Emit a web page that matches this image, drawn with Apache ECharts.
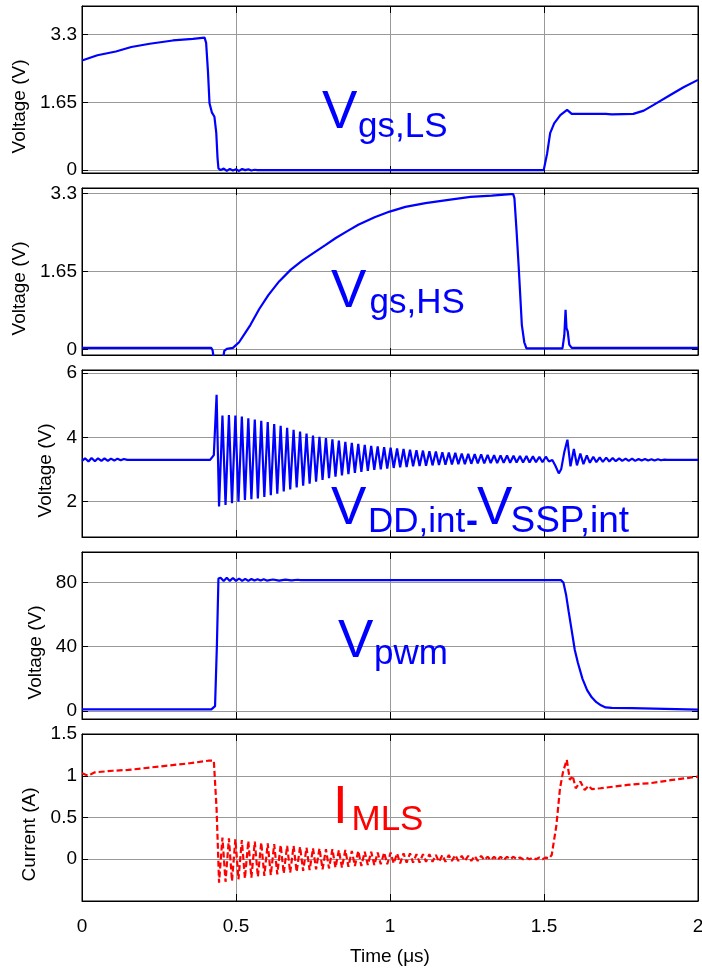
<!DOCTYPE html>
<html><head><meta charset="utf-8">
<script src="https://cdn.jsdelivr.net/npm/echarts@6/dist/echarts.min.js"></script>
<style>html,body{margin:0;padding:0;background:#fff}#c{width:702px;height:971px}</style>
</head><body><div id="c"></div>
<script>
// ---------------- data ----------------
const xTicks = [0, 0.5, 1, 1.5, 2];
const vgsTicks = [0, 1.65, 3.3];
const vddTicks = [2, 4, 6];
const vpwmTicks = [0, 40, 80];
const imlsTicks = [0, 0.5, 1, 1.5];

// Vgs,LS
const vgsLsT = [0, 0.05, 0.11, 0.16, 0.22, 0.295, 0.36, 0.398, 0.403, 0.409, 0.414, 0.422, 0.43, 0.436, 0.44, 0.443, 0.45, 0.46, 0.47, 0.48, 0.49, 0.50, 0.51, 0.52, 0.53, 0.54, 0.55, 0.56, 0.57, 1.499, 1.51, 1.52, 1.533, 1.553, 1.575, 1.59, 1.70, 1.72, 1.79, 1.824, 1.856, 1.91, 1.953, 2.0];
const vgsLsV = [2.67, 2.80, 2.89, 3.00, 3.08, 3.16, 3.20, 3.23, 3.10, 2.40, 1.63, 1.40, 1.30, 0.90, 0.30, 0.04, 0.00, 0.04, -0.02, 0.03, -0.01, 0.02, -0.02, 0.03, 0.00, 0.02, -0.01, 0.01, 0.00, 0.00, 0.40, 0.90, 1.14, 1.34, 1.47, 1.37, 1.37, 1.36, 1.37, 1.45, 1.59, 1.83, 2.02, 2.20];

// Vgs,HS
const vgsHsT = [0, 0.420, 0.424, 0.428, 0.458, 0.462, 0.470, 0.49, 0.496, 0.51, 0.53, 0.547, 0.575, 0.605, 0.64, 0.678, 0.715, 0.751, 0.79, 0.824, 0.86, 0.897, 0.95, 0.999, 1.05, 1.115, 1.19, 1.261, 1.33, 1.392, 1.40, 1.404, 1.411, 1.418, 1.428, 1.436, 1.443, 1.56, 1.566, 1.570, 1.573, 1.577, 1.582, 1.59, 2.0];
const vgsHsV = [0.03, 0.03, -0.02, -0.2, -0.2, -0.03, 0.01, 0.03, 0.03, 0.15, 0.35, 0.52, 0.85, 1.15, 1.44, 1.69, 1.88, 2.04, 2.21, 2.36, 2.50, 2.64, 2.80, 2.92, 3.02, 3.10, 3.17, 3.23, 3.26, 3.29, 3.29, 3.20, 2.50, 1.73, 0.52, 0.15, 0.02, 0.02, 0.30, 0.84, 0.45, 0.38, 0.10, 0.03, 0.03];

// ringing instants (shared by VDD-VSSP and IMLS)
const ringT = [0.445, 0.456, 0.466, 0.477, 0.487, 0.498, 0.508, 0.519, 0.529, 0.540,
  0.550, 0.561, 0.571, 0.582, 0.592, 0.603, 0.613, 0.624, 0.634, 0.645,
  0.655, 0.666, 0.676, 0.687, 0.697, 0.708, 0.718, 0.729, 0.739, 0.750,
  0.760, 0.771, 0.781, 0.792, 0.802, 0.813, 0.823, 0.834, 0.844, 0.855,
  0.865, 0.876, 0.886, 0.897, 0.907, 0.918, 0.928, 0.939, 0.949, 0.960,
  0.970, 0.981, 0.991, 1.002, 1.012, 1.023, 1.033, 1.044, 1.054, 1.065,
  1.075, 1.086, 1.096, 1.107, 1.117, 1.128, 1.138, 1.149, 1.159, 1.170,
  1.180, 1.191, 1.201, 1.212, 1.222, 1.233, 1.243, 1.254, 1.264, 1.275,
  1.285, 1.296, 1.306, 1.317, 1.327, 1.338, 1.348, 1.359, 1.369, 1.380,
  1.390, 1.401, 1.411, 1.422, 1.432, 1.443, 1.453, 1.464, 1.474, 1.485,
  1.495, 1.506];

// VDD,int - VSSP,int
const vddPreT = [0, 0.010, 0.021, 0.031, 0.042, 0.052, 0.063, 0.073, 0.084, 0.094, 0.105, 0.115, 0.126, 0.136, 0.147, 0.16, 0.416, 0.428, 0.437];
const vddPreV = [3.27, 3.35, 3.25, 3.36, 3.26, 3.35, 3.27, 3.35, 3.27, 3.34, 3.28, 3.34, 3.29, 3.33, 3.30, 3.30, 3.30, 3.45, 5.33];
const vddRingV = [1.85, 4.68, 1.90, 4.70, 1.95, 4.68, 2.00, 4.65, 2.05, 4.60,
  2.08, 4.56, 2.10, 4.52, 2.15, 4.48, 2.20, 4.42, 2.25, 4.36,
  2.32, 4.30, 2.38, 4.24, 2.44, 4.18, 2.50, 4.12, 2.56, 4.06,
  2.62, 4.02, 2.68, 3.98, 2.73, 3.94, 2.78, 3.90, 2.82, 3.86,
  2.86, 3.83, 2.90, 3.80, 2.93, 3.77, 2.96, 3.74, 2.99, 3.72,
  3.01, 3.70, 3.03, 3.68, 3.05, 3.66, 3.07, 3.64, 3.08, 3.62,
  3.10, 3.60, 3.11, 3.59, 3.12, 3.57, 3.13, 3.56, 3.14, 3.54,
  3.15, 3.53, 3.16, 3.52, 3.17, 3.50, 3.17, 3.49, 3.18, 3.48,
  3.19, 3.47, 3.19, 3.46, 3.20, 3.45, 3.20, 3.44, 3.21, 3.44,
  3.21, 3.43, 3.22, 3.42, 3.22, 3.42, 3.22, 3.41, 3.23, 3.40,
  3.23, 3.40];
const vddPostT = [1.516, 1.527, 1.537, 1.548, 1.556, 1.566, 1.576, 1.586, 1.597, 1.607, 1.618, 1.628, 1.639, 1.649, 1.660, 1.670, 1.681, 1.691, 1.702, 1.712, 1.723, 1.733, 1.744, 1.754, 1.765, 1.775, 1.786, 1.796, 1.807, 1.817, 1.828, 1.838, 1.849, 1.859, 1.870, 1.880, 1.891, 1.90, 2.0];
const vddPostV = [3.25, 3.30, 3.12, 2.88, 3.02, 3.55, 3.93, 3.10, 3.64, 3.13, 3.50, 3.17, 3.44, 3.21, 3.40, 3.23, 3.38, 3.24, 3.37, 3.25, 3.36, 3.26, 3.35, 3.27, 3.34, 3.27, 3.34, 3.27, 3.33, 3.28, 3.33, 3.28, 3.32, 3.28, 3.32, 3.29, 3.31, 3.30, 3.30];

// Vpwm
const vpwmT = [0, 0.42, 0.432, 0.438, 0.443, 0.450, 0.46, 0.47, 0.48, 0.49, 0.50, 0.51, 0.52, 0.53, 0.54, 0.55, 0.56, 0.57, 0.58, 0.59, 0.60, 0.62, 0.64, 0.66, 0.68, 0.70, 0.71, 1.555, 1.563, 1.572, 1.58, 1.59, 1.60, 1.61, 1.625, 1.64, 1.655, 1.67, 1.685, 1.70, 1.72, 1.785, 1.79, 2.0];
const vpwmV = [1.0, 1.0, 3, 41, 82.5, 83, 81, 83, 81, 82.8, 81, 82.5, 81, 82.3, 81, 82.2, 81.2, 82, 81.2, 82, 81.2, 81.9, 81.2, 81.8, 81.3, 81.7, 81.5, 81.5, 80, 72, 62, 50, 38, 30, 20, 13, 8.5, 5.5, 3.5, 2.2, 1.9, 1.8, 0.8, 0.8];

// IMLS
const imlsPreT = [0, 0.02, 0.04, 0.10, 0.15, 0.20, 0.30, 0.35, 0.41, 0.428, 0.437];
const imlsPreV = [1.03, 1.00, 1.04, 1.06, 1.07, 1.09, 1.13, 1.15, 1.18, 1.18, 0.60];
const imlsRingV = [-0.28, 0.26, -0.27, 0.25, -0.26, 0.24, -0.24, 0.23, -0.23, 0.22,
  -0.22, 0.21, -0.21, 0.20, -0.20, 0.19, -0.19, 0.18, -0.18, 0.17,
  -0.17, 0.16, -0.16, 0.16, -0.15, 0.15, -0.14, 0.14, -0.13, 0.13,
  -0.12, 0.13, -0.12, 0.12, -0.11, 0.12, -0.10, 0.11, -0.10, 0.11,
  -0.09, 0.10, -0.08, 0.10, -0.08, 0.09, -0.07, 0.09, -0.07, 0.08,
  -0.06, 0.08, -0.06, 0.08, -0.05, 0.07, -0.05, 0.07, -0.04, 0.07,
  -0.04, 0.06, -0.04, 0.06, -0.03, 0.06, -0.03, 0.05, -0.03, 0.05,
  -0.03, 0.05, -0.02, 0.05, -0.02, 0.04, -0.02, 0.04, -0.02, 0.04,
  -0.02, 0.04, -0.01, 0.03, -0.01, 0.03, -0.01, 0.03, -0.01, 0.03,
  0.00, 0.03, 0.00, 0.02, 0.00, 0.02, 0.00, 0.02, 0.00, 0.02,
  0.00, 0.02];
const imlsPostT = [1.516, 1.525, 1.54, 1.552, 1.562, 1.574, 1.584, 1.593, 1.603, 1.618, 1.632, 1.645, 1.655, 1.683, 1.727, 1.771, 1.80, 1.843, 1.88, 1.916, 1.96, 2.0];
const imlsPostV = [0.01, 0.05, 0.40, 0.85, 1.05, 1.19, 0.95, 1.00, 0.85, 0.93, 0.83, 0.88, 0.84, 0.85, 0.87, 0.89, 0.90, 0.91, 0.93, 0.95, 0.97, 0.99];

// ---------------- build ----------------
const zip = (t, v) => t.map((x, i) => [x, v[i]]);
const BLUE = '#0000ff', RED = '#ff0000';
const FONT = '"Liberation Sans", Arial, Helvetica, sans-serif';

const panels = [
  { top: 6,   h: 167, min: -0.07, max: 4.0,  ticks: vgsTicks,  name: 'Voltage (V)', gap: 52,
    data: zip(vgsLsT, vgsLsV), color: BLUE, dash: 'solid' },
  { top: 188, h: 167, min: -0.12, max: 3.42, ticks: vgsTicks,  name: 'Voltage (V)', gap: 51,
    data: zip(vgsHsT, vgsHsV), color: BLUE, dash: 'solid' },
  { top: 370, h: 167, min: 0.9,   max: 6.1,  ticks: vddTicks,  name: 'Voltage (V)', gap: 24,
    data: zip(vddPreT, vddPreV).concat(zip(ringT, vddRingV), zip(vddPostT, vddPostV)), color: BLUE, dash: 'solid' },
  { top: 552, h: 167, min: -5,    max: 99,   ticks: vpwmTicks, name: 'Voltage (V)', gap: 35,
    data: zip(vpwmT, vpwmV), color: BLUE, dash: 'solid' },
  { top: 734, h: 167, min: -0.5,  max: 1.5,  ticks: imlsTicks, name: 'Current (A)', gap: 40,
    data: zip(imlsPreT, imlsPreV).concat(zip(ringT, imlsRingV), zip(imlsPostT, imlsPostV)), color: RED, dash: [6, 3] }
];

const grid = [], xAxis = [], yAxis = [], series = [];
const GRIDC = '#999999';
const FS = 19;
panels.forEach((p, i) => {
  grid.push({ left: 82, width: 616, top: p.top, height: p.h, show: true, borderColor: '#000', borderWidth: 1,
    containLabel: false, outerBoundsMode: 'none' });
  const last = i === panels.length - 1;
  xAxis.push({
    gridIndex: i, type: 'value', min: 0, max: 2, interval: 0.5, position: 'bottom',
    axisLine: { show: true, onZero: false, lineStyle: { color: '#000', width: 1 } },
    axisTick: { show: true, inside: true, length: 7, customValues: xTicks, lineStyle: { color: '#000' } },
    axisLabel: { show: last, customValues: xTicks, margin: 16, color: '#000', fontSize: FS, fontFamily: FONT,
      formatter: v => String(v) },
    splitLine: { show: true, lineStyle: { color: GRIDC, width: 1 } },
    name: last ? 'Time (\u03bcs)' : '', nameLocation: 'middle', nameGap: 46,
    nameTextStyle: { color: '#000', fontSize: FS, fontFamily: FONT }
  });
  xAxis.push({
    gridIndex: i, type: 'value', min: 0, max: 2, interval: 0.5, position: 'top',
    axisLine: { show: true, onZero: false, lineStyle: { color: '#000', width: 1 } },
    axisTick: { show: true, inside: true, length: 7, customValues: xTicks, lineStyle: { color: '#000' } },
    axisLabel: { show: false }, splitLine: { show: false }
  });
  yAxis.push({
    gridIndex: i, type: 'value', min: p.min, max: p.max, position: 'left',
    axisLine: { show: true, onZero: false, lineStyle: { color: '#000', width: 1 } },
    axisTick: { show: true, inside: true, length: 6, customValues: p.ticks, lineStyle: { color: '#000' } },
    axisLabel: { show: true, customValues: p.ticks, margin: 5, color: '#000', fontSize: FS, fontFamily: FONT,
      formatter: v => String(v) },
    splitLine: { show: true, lineStyle: { color: GRIDC, width: 1 } },
    name: p.name, nameLocation: 'middle', nameRotate: 90, nameGap: p.gap,
    nameTextStyle: { color: '#000', fontSize: FS, fontFamily: FONT, padding: [0, 34, 0, 0] }
  });
  yAxis.push({
    gridIndex: i, type: 'value', min: p.min, max: p.max, position: 'right',
    axisLine: { show: true, onZero: false, lineStyle: { color: '#000', width: 1 } },
    axisTick: { show: true, inside: true, length: 6, customValues: p.ticks, lineStyle: { color: '#000' } },
    axisLabel: { show: false }, splitLine: { show: false }
  });
  series.push({
    type: 'line', xAxisIndex: 2 * i, yAxisIndex: 2 * i, data: p.data, showSymbol: false,
    symbol: 'none', clip: true, animation: false,
    lineStyle: { color: p.color, width: 2.2, type: p.dash }, z: 5
  });
});

// annotation labels (left x, text baseline y, font size)
const ann = [
  { t: 'V', x: 322, b: 131.5, s: 53, c: BLUE }, { t: 'gs,LS', x: 358, b: 139, s: 35, c: BLUE },
  { t: 'V', x: 331, b: 310, s: 53, c: BLUE }, { t: 'gs,HS', x: 369.5, b: 315, s: 35, c: BLUE },
  { t: 'V', x: 331, b: 527, s: 53, c: BLUE }, { t: 'DD,int', x: 368, b: 534, s: 35, c: BLUE },
  { t: '-', x: 466, b: 534, s: 36, c: BLUE, w: 'bold' },
  { t: 'V', x: 477, b: 527, s: 53, c: BLUE }, { t: 'SSP,int', x: 510.5, b: 534, s: 37, c: BLUE },
  { t: 'V', x: 338, b: 660, s: 53, c: BLUE }, { t: 'pwm', x: 374, b: 666, s: 35, c: BLUE },
  { t: 'I', x: 333, b: 826, s: 53, c: RED }, { t: 'MLS', x: 351.5, b: 832, s: 35, c: RED }
];
const graphic = ann.map(a => ({
  type: 'text', x: a.x, y: a.b - 0.34 * a.s, z: 10,
  style: { text: a.t, font: (a.w || 'normal') + ' ' + a.s + 'px ' + FONT, fill: a.c,
    textAlign: 'left', textVerticalAlign: 'middle' }
}));

const chart = echarts.init(document.getElementById('c'), null, { renderer: 'canvas' });
chart.setOption({ animation: false, backgroundColor: '#fff', grid, xAxis, yAxis, series, graphic });
</script></body></html>
